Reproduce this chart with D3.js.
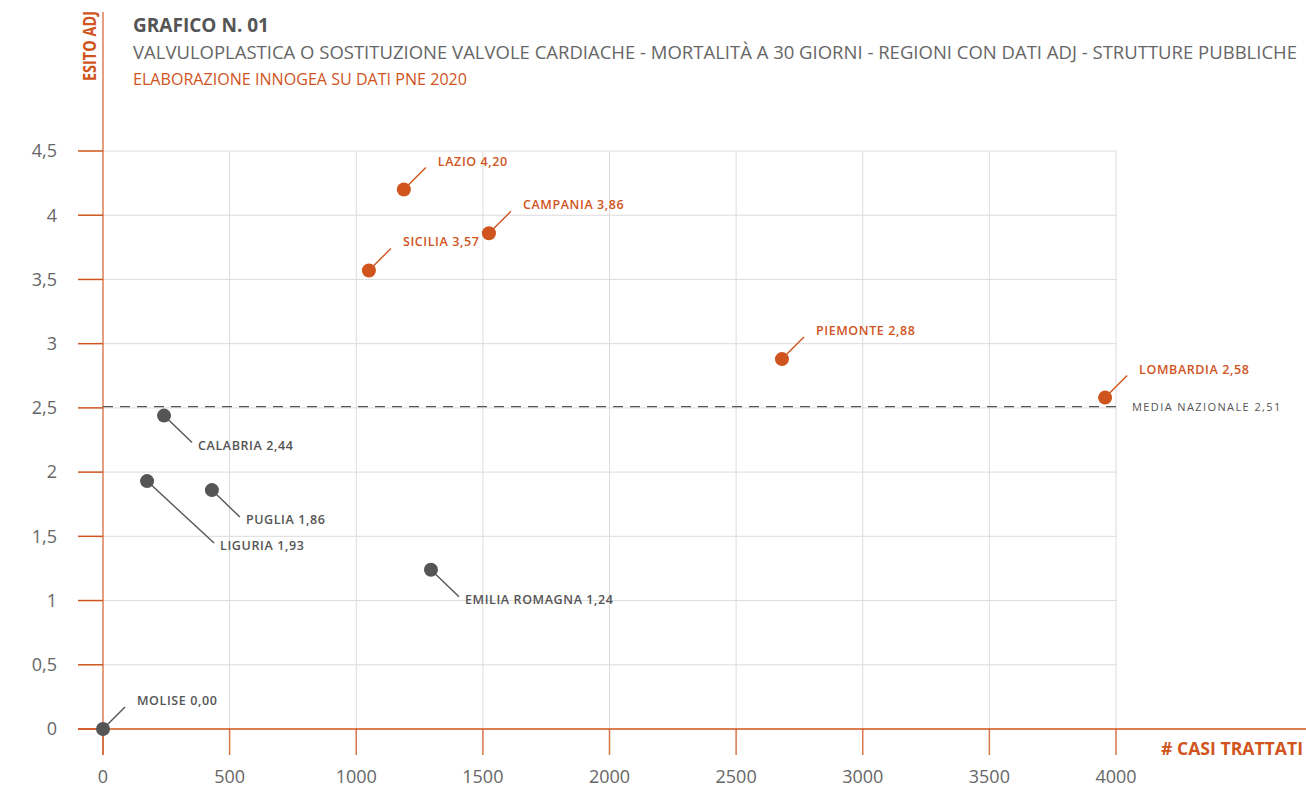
<!DOCTYPE html>
<html lang="it">
<head>
<meta charset="UTF-8">
<title>Grafico N. 01</title>
<script src="https://d3js.org/d3.v7.min.js"></script>
<style>
  body { margin: 0; background: #fff; }
  svg { font-family: "Open Sans", sans-serif; }
  .grid line { stroke: #dcdcdc; stroke-width: 1px; }
  .tick-label { fill: #666; font-size: 18px; }
  .pt-label { font-size: 12.5px; font-weight: 600; letter-spacing: 0.6px; }
</style>
</head>
<body>
<svg width="1306" height="790"></svg>
<script>
// data
var regioni = ["LAZIO", "CAMPANIA", "SICILIA", "PIEMONTE", "LOMBARDIA", "CALABRIA", "LIGURIA", "PUGLIA", "EMILIA ROMAGNA", "MOLISE"];
var casi    = [1188, 1524, 1050, 2681, 3957, 241, 174, 430, 1295, 0];
var esito   = [4.20, 3.86, 3.57, 2.88, 2.58, 2.44, 1.93, 1.86, 1.24, 0.00];
var sopraMedia = [true, true, true, true, true, false, false, false, false, false];
var mediaNazionale = 2.51;
var xTicks = [0, 500, 1000, 1500, 2000, 2500, 3000, 3500, 4000];
var yTicks = [0, 0.5, 1, 1.5, 2, 2.5, 3, 3.5, 4, 4.5];

var orange = "#d0541d";
var grey = "#555";

var svg = d3.select("svg");

var x = d3.scaleLinear().domain([0, 4000]).range([103, 1116]);
var y = d3.scaleLinear().domain([0, 4.5]).range([729, 151]);
var fmt = function(v) { return v.toFixed(2).replace(".", ","); };
var fmtTick = function(v) { return String(v).replace(".", ","); };

// gridlines
var grid = svg.append("g").attr("class", "grid");
grid.selectAll("line.v").data(xTicks.slice(1)).enter().append("line")
    .attr("x1", d => x(d)).attr("x2", d => x(d))
    .attr("y1", y(4.5)).attr("y2", y(0));
grid.selectAll("line.h").data(yTicks.slice(1)).enter().append("line")
    .attr("x1", x(0)).attr("x2", x(4000))
    .attr("y1", d => y(d)).attr("y2", d => y(d));

// axes
var axes = svg.append("g");
axes.append("line").attr("x1", x(0)).attr("x2", x(0)).attr("y1", 12).attr("y2", 755)
    .attr("stroke", orange).attr("stroke-opacity", 0.75).attr("stroke-width", 1.5);
axes.append("line").attr("x1", 78).attr("x2", 1306).attr("y1", y(0)).attr("y2", y(0))
    .attr("stroke", orange).attr("stroke-width", 1.5);
axes.selectAll("line.yt").data(yTicks).enter().append("line")
    .attr("x1", 78).attr("x2", x(0)).attr("y1", d => y(d)).attr("y2", d => y(d))
    .attr("stroke", orange).attr("stroke-width", 1.5);
axes.selectAll("line.xt").data(xTicks).enter().append("line")
    .attr("x1", d => x(d)).attr("x2", d => x(d)).attr("y1", y(0)).attr("y2", 755)
    .attr("stroke", orange).attr("stroke-opacity", 0.8).attr("stroke-width", 1.5);

axes.selectAll("text.yl").data(yTicks).enter().append("text")
    .attr("class", "tick-label")
    .attr("x", 57).attr("y", d => y(d)).attr("dy", "0.35em")
    .attr("text-anchor", "end").text(fmtTick);
axes.selectAll("text.xl").data(xTicks).enter().append("text")
    .attr("class", "tick-label")
    .attr("x", d => x(d)).attr("y", 783)
    .attr("text-anchor", "middle").text(d => d);

// axis titles
svg.append("text").attr("transform", "translate(96,46) rotate(-90)")
    .attr("text-anchor", "middle").attr("fill", orange)
    .attr("font-size", 17).attr("font-weight", 700)
    .attr("textLength", 70).attr("lengthAdjust", "spacingAndGlyphs")
    .text("ESITO ADJ");
svg.append("text").attr("x", 1303).attr("y", 755)
    .attr("text-anchor", "end").attr("fill", orange)
    .attr("font-size", 18).attr("font-weight", 700)
    .attr("textLength", 142).attr("lengthAdjust", "spacingAndGlyphs")
    .text("# CASI TRATTATI");

// titles
svg.append("text").attr("x", 133).attr("y", 32).attr("fill", "#555")
    .attr("font-size", 20).attr("font-weight", 700)
    .attr("textLength", 136).attr("lengthAdjust", "spacingAndGlyphs")
    .text("GRAFICO N. 01");
svg.append("text").attr("x", 133).attr("y", 59).attr("fill", "#666")
    .attr("font-size", 18)
    .attr("textLength", 1164).attr("lengthAdjust", "spacingAndGlyphs")
    .text("VALVULOPLASTICA O SOSTITUZIONE VALVOLE CARDIACHE - MORTALITÀ A 30 GIORNI - REGIONI CON DATI ADJ - STRUTTURE PUBBLICHE");
svg.append("text").attr("x", 133).attr("y", 85).attr("fill", orange)
    .attr("font-size", 17)
    .attr("textLength", 334).attr("lengthAdjust", "spacingAndGlyphs")
    .text("ELABORAZIONE INNOGEA SU DATI PNE 2020");

// media nazionale
svg.append("line").attr("x1", x(0)).attr("x2", x(4000))
    .attr("y1", y(mediaNazionale)).attr("y2", y(mediaNazionale))
    .attr("stroke", grey).attr("stroke-width", 1.3).attr("stroke-dasharray", "10,7");
svg.append("text").attr("x", 1132).attr("y", y(mediaNazionale)).attr("dy", "0.4em")
    .attr("fill", grey).attr("font-size", 11).attr("letter-spacing", 1.4)
    .text("MEDIA NAZIONALE " + fmt(mediaNazionale));

// points
var data = regioni.map(function(r, i) {
  return { nome: r, x: casi[i], y: esito[i], su: sopraMedia[i] };
});
// label offsets (leader line end, px)
var offsets = {
  "LIGURIA": [67, 62]
};

var g = svg.append("g");
data.forEach(function(d) {
  var px = x(d.x), py = y(d.y);
  var col = d.su ? orange : grey;
  var off = offsets[d.nome] || (d.su ? [22, -22] : [28, 27]);
  if (d.nome === "MOLISE") off = [22, -22];
  var lx = px + off[0], ly = py + off[1];
  var up = off[1] < 0;
  g.append("line").attr("x1", px).attr("y1", py).attr("x2", lx).attr("y2", ly)
      .attr("stroke", col).attr("stroke-width", 1.4);
  g.append("circle").attr("cx", px).attr("cy", py).attr("r", 7).attr("fill", col);
  g.append("text").attr("class", "pt-label")
      .attr("x", up ? lx + 12 : lx + 6).attr("y", up ? ly - 2 : ly + 7)
      .attr("fill", col)
      .text(d.nome + " " + fmt(d.y));
});
</script>
</body>
</html>
